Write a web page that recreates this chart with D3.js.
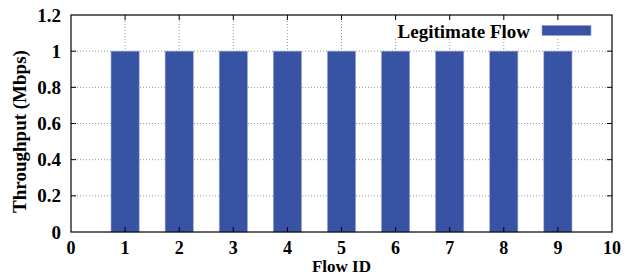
<!DOCTYPE html>
<html lang="en">
<head>
<meta charset="UTF-8">
<title>Throughput per Flow</title>
<style>
    body, html { margin: 0; padding: 0; background: #fff; overflow: hidden; }
    svg { display: block; }
    text { font-family: "Liberation Serif", "DejaVu Serif", serif; font-weight: bold; fill: #000; }
    .grid line { stroke: #999; stroke-width: 1; stroke-dasharray: 1,2; }
</style>
</head>
<body>
<script src="https://d3js.org/d3.v7.min.js"></script>
<script>
    const flowIds = [1, 2, 3, 4, 5, 6, 7, 8, 9];
    const throughput = [1, 1, 1, 1, 1, 1, 1, 1, 1];
    const xTicks = [0, 1, 2, 3, 4, 5, 6, 7, 8, 9, 10];
    const yTicks = [0, 0.2, 0.4, 0.6, 0.8, 1, 1.2];
    const seriesName = "Legitimate Flow";

    const width = 628, height = 278;
    const margin = { top: 15, right: 16, bottom: 46, left: 71 };
    const iw = width - margin.left - margin.right;
    const ih = height - margin.top - margin.bottom;
    const fs = "19px";

    const svg = d3.select("body").append("svg")
        .attr("width", width)
        .attr("height", height);

    const g = svg.append("g").attr("transform", `translate(${margin.left},${margin.top})`);

    const x = d3.scaleLinear().domain([0, 10]).range([0, iw]);
    const y = d3.scaleLinear().domain([0, 1.2]).range([ih, 0]);

    // grid
    const grid = g.append("g").attr("class", "grid");
    grid.selectAll(".gy").data(yTicks.slice(1, -1)).enter().append("line")
        .attr("x1", 0).attr("x2", iw)
        .attr("y1", d => y(d)).attr("y2", d => y(d));
    grid.selectAll(".gx").data(xTicks.slice(1, -1)).enter().append("line")
        .attr("x1", d => x(d)).attr("x2", d => x(d))
        .attr("y1", 0).attr("y2", ih);

    // bars
    const barW = x(0.52) - x(0);
    g.selectAll(".bar").data(flowIds).enter().append("rect")
        .attr("x", d => x(d) - barW / 2)
        .attr("y", (d, i) => y(throughput[i]))
        .attr("width", barW)
        .attr("height", (d, i) => y(0) - y(throughput[i]))
        .attr("fill", "#3853a4")
        .attr("stroke", "#8fa3d6")
        .attr("stroke-width", 0.6);

    // legend, white box hides the grid behind it
    const legG = g.append("g");
    legG.append("rect")
        .attr("x", x(5.8)).attr("y", 5)
        .attr("width", x(9.95) - x(5.8)).attr("height", 19)
        .attr("fill", "#fff");
    legG.append("text")
        .attr("x", 530 - margin.left).attr("y", 16)
        .attr("dy", "0.35em")
        .attr("text-anchor", "end")
        .style("font-size", fs)
        .text(seriesName);
    legG.append("rect")
        .attr("x", 542 - margin.left).attr("y", 10.5)
        .attr("width", 49).attr("height", 10)
        .attr("fill", "#3853a4")
        .attr("stroke", "#8fa3d6")
        .attr("stroke-width", 0.6);

    // ticks (inward, mirrored)
    const tk = g.append("g").attr("stroke", "#000").attr("stroke-width", 1);
    tk.selectAll(".tb").data(xTicks.slice(1, -1)).enter().append("line")
        .attr("x1", d => x(d)).attr("x2", d => x(d)).attr("y1", ih).attr("y2", ih - 5);
    tk.selectAll(".tt").data(xTicks.slice(1, -1)).enter().append("line")
        .attr("x1", d => x(d)).attr("x2", d => x(d)).attr("y1", 0).attr("y2", 5);
    tk.selectAll(".tl").data(yTicks.slice(1, -1)).enter().append("line")
        .attr("x1", 0).attr("x2", 5).attr("y1", d => y(d)).attr("y2", d => y(d));
    tk.selectAll(".tr").data(yTicks.slice(1, -1)).enter().append("line")
        .attr("x1", iw).attr("x2", iw - 5).attr("y1", d => y(d)).attr("y2", d => y(d));

    // frame
    g.append("rect")
        .attr("width", iw).attr("height", ih)
        .attr("fill", "none").attr("stroke", "#000").attr("stroke-width", 1.2);

    // tick labels
    g.selectAll(".xl").data(xTicks).enter().append("text")
        .attr("x", d => x(d)).attr("y", ih + 16)
        .attr("dy", "0.35em")
        .attr("text-anchor", "middle")
        .style("font-size", "18px")
        .text(d => d);
    g.selectAll(".yl").data(yTicks).enter().append("text")
        .attr("x", -10).attr("y", d => y(d))
        .attr("dy", "0.35em")
        .attr("text-anchor", "end")
        .style("font-size", fs)
        .text(d => d);

    // axis titles
    svg.append("text")
        .attr("x", margin.left + x(5)).attr("y", 266)
        .attr("dy", "0.35em")
        .attr("text-anchor", "middle")
        .style("font-size", "17px")
        .text("Flow ID");
    svg.append("text")
        .attr("transform", `translate(19,${margin.top + ih / 2 + 8}) rotate(-90)`)
        .attr("dy", "0.35em")
        .attr("text-anchor", "middle")
        .style("font-size", fs)
        .text("Throughput (Mbps)");
</script>
</body>
</html>
